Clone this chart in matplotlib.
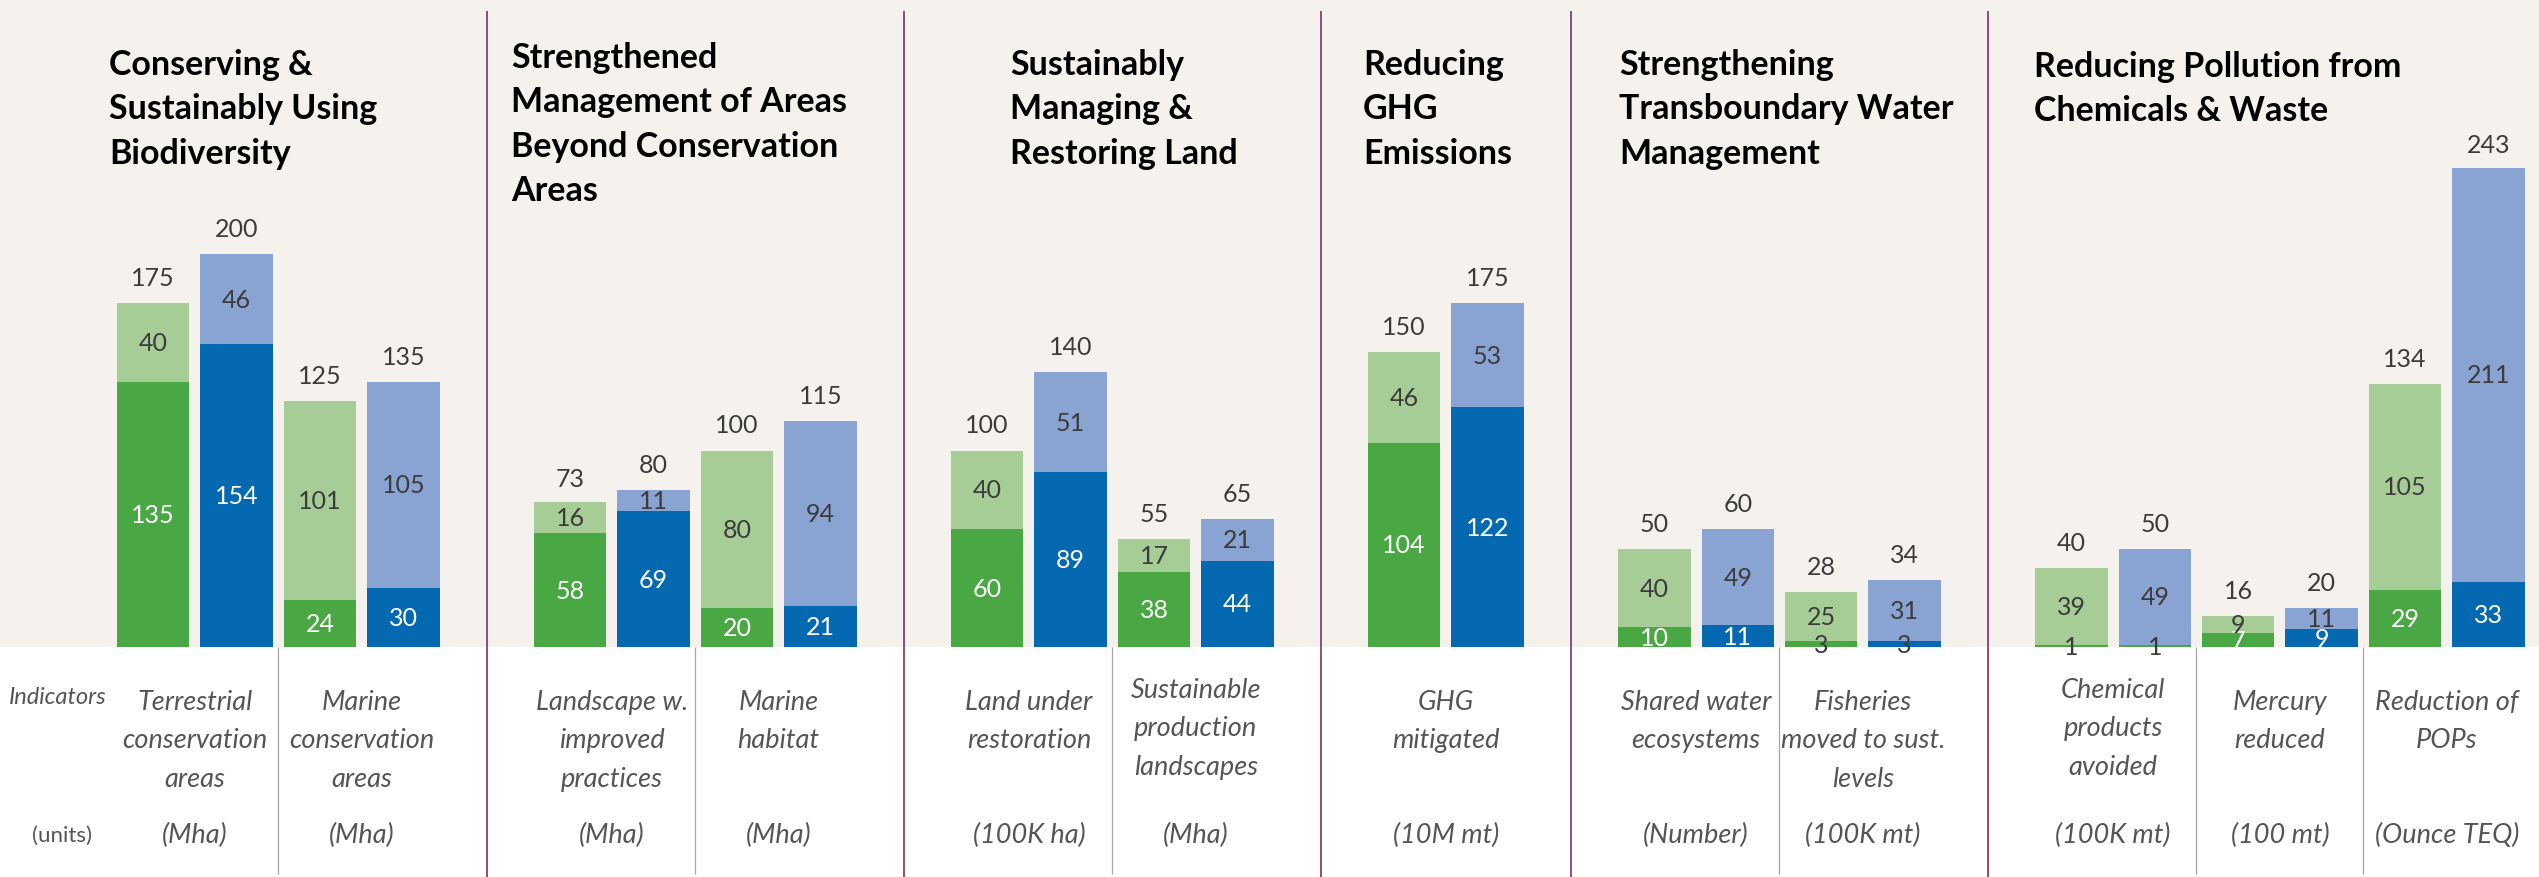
import numpy as np
import matplotlib.pyplot as plt

# panel headings and how many indicators sit under each one
panel_titles = [
    "Conserving &\nSustainably Using\nBiodiversity",
    "Strengthened\nManagement of Areas\nBeyond Conservation\nAreas",
    "Sustainably\nManaging &\nRestoring Land",
    "Reducing\nGHG\nEmissions",
    "Strengthening\nTransboundary Water\nManagement",
    "Reducing Pollution from\nChemicals & Waste",
]
panel_sizes = [2, 2, 2, 1, 2, 3]

indicator_labels = [
    "Terrestrial\nconservation\nareas",
    "Marine\nconservation\nareas",
    "Landscape w.\nimproved\npractices",
    "Marine\nhabitat",
    "Land under\nrestoration",
    "Sustainable\nproduction\nlandscapes",
    "GHG\nmitigated",
    "Shared water\necosystems",
    "Fisheries\nmoved to sust.\nlevels",
    "Chemical\nproducts\navoided",
    "Mercury\nreduced",
    "Reduction of\nPOPs",
]
unit_labels = ["(Mha)", "(Mha)", "(Mha)", "(Mha)", "(100K ha)", "(Mha)",
               "(10M mt)", "(Number)", "(100K mt)", "(100K mt)", "(100 mt)",
               "(Ounce TEQ)"]

# green bar = dark bottom + light top, blue bar likewise
green_base = [135, 24, 58, 20, 60, 38, 104, 10, 3, 1, 7, 29]
green_extra = [40, 101, 16, 80, 40, 17, 46, 40, 25, 39, 9, 105]
green_total = [175, 125, 73, 100, 100, 55, 150, 50, 28, 40, 16, 134]
blue_base = [154, 30, 69, 21, 89, 44, 122, 11, 3, 1, 9, 33]
blue_extra = [46, 105, 11, 94, 51, 21, 53, 49, 31, 49, 11, 211]
blue_total = [200, 135, 80, 115, 140, 65, 175, 60, 34, 50, 20, 243]

# layout, in pixels of the 2539x878 picture
W, H = 2539, 878
BASE_PX = 648          # where the bars stand
PX_PER_UNIT = 1.965
FIRST_PX = 153.2       # centre of the first bar
PITCH_PX = 83.4        # bar to bar
BAR_W = 0.87

title_x_px = [109, 511, 1010, 1363, 1619, 2034]
title_y_px = [75, 68, 75, 75, 75, 77]

BG = '#F5F2EE'
DARK_GREEN = '#49A844'
LIGHT_GREEN = '#A5CD95'
DARK_BLUE = '#0569B2'
LIGHT_BLUE = '#89A3D3'
DIVIDER = '#7B3070'
SUBDIV = '#A6A6A6'
NUM_COLOR = '#3B3B3B'
LABEL_COLOR = '#555555'
FONT = 'Lato'


def xk(px):
    return (px - FIRST_PX) / PITCH_PX


def yv(px):
    return (BASE_PX - px) / PX_PER_UNIT


def slot_positions():
    k = 0
    pairs, dividers, subs = [], [], []
    for p, n in enumerate(panel_sizes):
        for i in range(n):
            pairs.append(k)
            if i < n - 1:
                subs.append(k + 1.5)
            k += 2
        if p < len(panel_sizes) - 1:
            dividers.append(k)
            k += 1
    return np.array(pairs), dividers, subs


def stack_lines(ax, x, y_px, text, pitch, **kw):
    for i, line in enumerate(text.split('\n')):
        ax.text(x, yv(y_px + i * pitch), line, va='baseline', **kw)


def label_segments(ax, xs, bottoms, values, dark):
    for x, b, v in zip(xs, bottoms, values):
        color = 'white' if (dark and v >= 5) else NUM_COLOR
        ax.text(x, b + v / 2, str(v), ha='center', va='center',
                fontsize=18, color=color, family=FONT)


def main():
    fig = plt.figure(figsize=(W / 100, H / 100), dpi=100, facecolor='white')
    ax = fig.add_axes([0, 0, 1, 1])
    ax.set_xlim(xk(0), xk(W))
    ax.set_ylim(yv(H), yv(0))
    ax.axis('off')

    ax.axhspan(0, yv(0), color=BG, zorder=0, lw=0)

    pairs, dividers, subs = slot_positions()
    gx = pairs
    bx = pairs + 1

    # the source draws the tiny base of the chemicals blue bar in green
    blue_base_colors = [DARK_BLUE] * len(blue_base)
    blue_base_colors[9] = DARK_GREEN

    ax.bar(gx, green_base, width=BAR_W, color=DARK_GREEN, zorder=2)
    ax.bar(gx, green_extra, bottom=green_base, width=BAR_W, color=LIGHT_GREEN, zorder=2)
    ax.bar(bx, blue_base, width=BAR_W, color=blue_base_colors, zorder=2)
    ax.bar(bx, blue_extra, bottom=blue_base, width=BAR_W, color=LIGHT_BLUE, zorder=2)

    label_segments(ax, gx, [0] * len(gx), green_base, True)
    label_segments(ax, gx, green_base, green_extra, False)
    label_segments(ax, bx, [0] * len(bx), blue_base, True)
    label_segments(ax, bx, blue_base, blue_extra, False)

    gap = 18 / PX_PER_UNIT
    for x, t in list(zip(gx, green_total)) + list(zip(bx, blue_total)):
        ax.text(x, t + gap, str(t), ha='center', va='baseline',
                fontsize=18, color=NUM_COLOR, family=FONT)

    ax.vlines(dividers, yv(H), yv(12), color=DIVIDER, lw=1.2, zorder=3)
    ax.vlines(subs, yv(875), 0, color=SUBDIV, lw=0.9, zorder=3)

    for x_px, y_px, title in zip(title_x_px, title_y_px, panel_titles):
        stack_lines(ax, xk(x_px), y_px, title, 44.4, ha='left', fontsize=24.5,
                    weight='bold', color='black', family=FONT)

    for i, (x, lab, unit) in enumerate(zip(pairs + 0.5, indicator_labels, unit_labels)):
        top = 698 if i in (5, 9) else 710
        stack_lines(ax, x, top, lab, 38.3, ha='center', fontsize=19.5,
                    style='italic', color=LABEL_COLOR, family=FONT)
        ax.text(x, yv(835), unit, ha='center', va='center', fontsize=19.5,
                style='italic', color=LABEL_COLOR, family=FONT)

    ax.text(xk(8.6), yv(704), "Indicators", ha='left', va='baseline', fontsize=17,
            style='italic', color=LABEL_COLOR, family=FONT)
    ax.text(xk(62), yv(836), "(units)", ha='center', va='center', fontsize=16,
            color=LABEL_COLOR, family=FONT)

    fig.savefig('out.png', dpi=100, facecolor='white')
    plt.close(fig)


if __name__ == "__main__":
    main()
